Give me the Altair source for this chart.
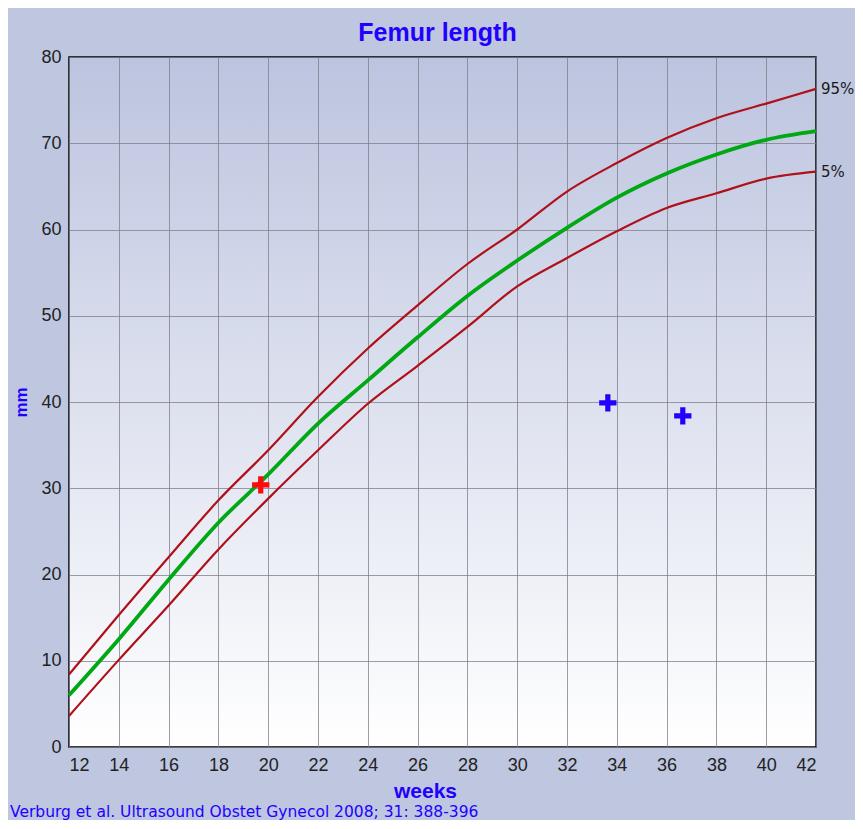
import altair as alt
import pandas as pd

# ---- data ----
weeks = [12, 14, 16, 18, 20, 22, 24, 26, 28, 30, 32, 34, 36, 38, 40, 42]
p95 = [8.4, 15.3, 22.0, 28.6, 34.4, 40.6, 46.2, 51.2, 56.0, 60.0, 64.4, 67.7, 70.6, 72.9, 74.6, 76.3]
p50 = [6.0, 12.5, 19.4, 26.0, 31.6, 37.5, 42.5, 47.5, 52.3, 56.4, 60.2, 63.7, 66.5, 68.7, 70.4, 71.4]
p5 = [3.6, 10.1, 16.4, 22.9, 28.8, 34.4, 39.8, 44.2, 48.7, 53.4, 56.7, 59.8, 62.5, 64.2, 65.9, 66.7]

red_week = [19.7]
red_mm = [30.4]
blue_week = [33.64, 36.65]
blue_mm = [39.9, 38.4]

x_ticks = list(range(12, 43, 2))
y_ticks = list(range(0, 81, 10))
end_labels = ["95%", "5%"]

BLUE = "#2200ff"
DARKRED = "#b0101a"
GREEN = "#00a814"
CROSS = "M-1,-0.3H-0.3V-1H0.3V-0.3H1V0.3H0.3V1H-0.3V0.3H-1Z"

curves = pd.DataFrame({"week": weeks, "p95": p95, "p50": p50, "p5": p5})
reds = pd.DataFrame({"week": red_week, "mm": red_mm})
blues = pd.DataFrame({"week": blue_week, "mm": blue_mm})
ends = pd.DataFrame({"week": [weeks[-1], weeks[-1]], "mm": [p95[-1], p5[-1]], "label": end_labels})
note = pd.DataFrame({"t": ["Verburg et al. Ultrasound Obstet Gynecol 2008; 31: 388-396"]})

xscale = alt.Scale(domain=[12, 42], nice=False, zero=False)
yscale = alt.Scale(domain=[0, 80], nice=False)
xaxis = alt.Axis(values=x_ticks, title="weeks", titleX=356, titleY=44, titleBaseline="middle")
yaxis = alt.Axis(values=y_ticks, title="mm", titleX=-48, titleY=345, titleBaseline="middle")


def X(f="week"):
    return alt.X(f"{f}:Q", scale=xscale, axis=xaxis)


def Y(f):
    return alt.Y(f"{f}:Q", scale=yscale, axis=yaxis)


base = alt.Chart(curves)
l95 = base.mark_line(color=DARKRED, strokeWidth=2.2, interpolate="monotone").encode(x=X(), y=Y("p95"))
l5 = base.mark_line(color=DARKRED, strokeWidth=2.2, interpolate="monotone").encode(x=X(), y=Y("p5"))
l50 = base.mark_line(color=GREEN, strokeWidth=3.8, interpolate="monotone").encode(x=X(), y=Y("p50"))

red_pts = alt.Chart(reds).mark_point(shape=CROSS, size=300, filled=True, opacity=1,
                                      color="#ff0a0a", strokeWidth=0).encode(x=X(), y=Y("mm"))
blue_pts = alt.Chart(blues).mark_point(shape=CROSS, size=300, filled=True, opacity=1,
                                        color=BLUE, strokeWidth=0).encode(x=X(), y=Y("mm"))

end_txt = alt.Chart(ends).mark_text(align="left", baseline="middle", dx=5, fontSize=15,
                                    font="DejaVu Sans", color="#1a1a1a").encode(
    x=X(), y=Y("mm"), text="label:N")

note_txt = alt.Chart(note).mark_text(align="left", baseline="middle", fontSize=15.5,
                                     font="DejaVu Sans", color=BLUE).encode(
    x=alt.value(-59), y=alt.value(755), text="t:N")

grad = ("{gradient:'linear', x1:0, y1:0, x2:0, y2:1, stops:["
        "{offset:0, color:'#bcc4df'}, {offset:1, color:'#ffffff'}]}")

chart = alt.layer(l95, l5, l50, red_pts, blue_pts, end_txt, note_txt).properties(
    width=747, height=690,
    title=alt.TitleParams("Femur length", fontSize=25, font="Liberation Sans", fontWeight="bold",
                          color=BLUE, anchor="middle", offset=2, dx=-5),
    autosize=alt.AutoSizeParams(type="none"),
    padding={"left": 61, "top": 49, "right": 39, "bottom": 73},
    background="#bec6e0",
).configure_view(
    stroke="#000000", strokeWidth=1.5, fill={"expr": grad}
).configure_axis(
    domain=False, ticks=False, grid=True, gridColor="#7c7c88", gridOpacity=0.75, gridWidth=1,
    labelFont="Liberation Sans", labelFontSize=18, labelColor="#222222", labelPadding=8,
    titleFont="Liberation Sans", titleColor=BLUE, titleFontWeight="bold",
).configure_axisX(titleFontSize=21, labelPadding=9).configure_axisY(titleFontSize=17)

chart.save("out.html", embed_options={"renderer": "svg", "actions": False})
